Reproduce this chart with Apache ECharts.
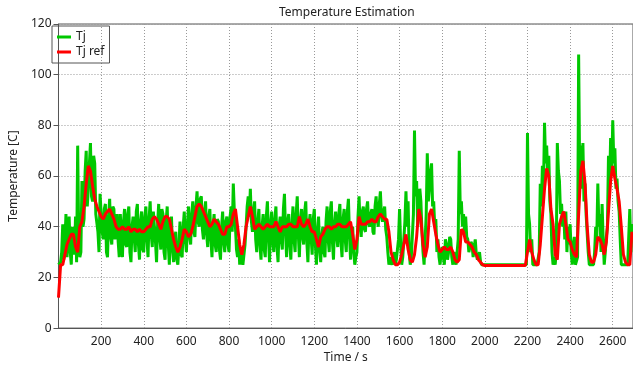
<!DOCTYPE html>
<html>
<head>
<meta charset="utf-8">
<script src="https://cdn.jsdelivr.net/npm/echarts@6/dist/echarts.min.js"></script>
<style>
html, body { margin: 0; background: #fff; }
#main { width: 633px; height: 369px; }
</style>
</head>
<body>
<div id="main"></div>
<script>
// sample spacing, seconds
var tjStep = 5;
var refStep = 10;

// Tj, one value every 5 s
var tj = [
  25, 25, 26, 30, 41, 27, 33, 45, 28, 36, 44, 30, 25, 40, 37, 29, 44, 26, 72, 35,
  28, 30, 58, 40, 43, 62, 70, 48, 55, 65, 73, 52, 50, 68, 65, 45, 45, 38, 30, 53,
  53, 38, 35, 47, 49, 30, 28, 44, 51, 36, 33, 48, 47, 35, 38, 45, 34, 28, 45, 36,
  28, 42, 47, 33, 32, 45, 48, 30, 26, 40, 44, 36, 30, 46, 49, 33, 27, 42, 46, 31,
  30, 44, 48, 35, 28, 43, 50, 37, 32, 46, 46, 34, 26, 41, 49, 36, 31, 47, 45, 30,
  27, 42, 48, 33, 25, 38, 44, 31, 26, 35, 38, 27, 25, 33, 42, 29, 28, 40, 46, 35,
  30, 41, 48, 36, 33, 45, 50, 38, 36, 48, 54, 42, 40, 51, 52, 39, 35, 46, 50, 37,
  32, 44, 47, 35, 28, 40, 45, 33, 30, 43, 42, 31, 27, 40, 46, 34, 30, 42, 44, 33,
  30, 44, 48, 38, 57, 46, 40, 31, 28, 35, 25, 30, 27, 25, 25, 33, 40, 48, 52, 44,
  55, 42, 38, 46, 50, 35, 30, 42, 47, 33, 27, 40, 45, 31, 28, 44, 50, 36, 26, 41,
  46, 34, 30, 43, 48, 32, 26, 40, 44, 35, 31, 47, 53, 38, 28, 42, 45, 33, 27, 41,
  48, 35, 30, 45, 52, 37, 28, 42, 47, 36, 33, 46, 50, 34, 26, 40, 45, 36, 29, 43,
  47, 33, 25, 38, 44, 31, 26, 36, 40, 30, 28, 42, 48, 35, 30, 46, 50, 34, 27, 41,
  46, 36, 32, 45, 49, 34, 28, 43, 47, 35, 30, 46, 51, 37, 27, 38, 40, 30, 25, 28,
  30, 44, 52, 40, 36, 46, 48, 39, 38, 47, 50, 41, 40, 45, 47, 38, 37, 48, 52, 43,
  40, 49, 54, 44, 42, 46, 48, 39, 36, 30, 25, 28, 26, 25, 25, 30, 25, 27, 27, 35,
  47, 33, 25, 28, 35, 42, 54, 40, 50, 30, 25, 28, 28, 45, 78, 52, 58, 40, 45, 55,
  50, 38, 30, 25, 25, 45, 69, 50, 55, 62, 65, 48, 50, 40, 43, 30, 35, 28, 25, 30,
  32, 28, 25, 35, 33, 27, 30, 36, 35, 28, 25, 30, 27, 25, 30, 35, 70, 45, 50, 40,
  45, 38, 44, 36, 35, 30, 30, 34, 33, 28, 32, 35, 29, 27, 27, 30, 26, 25, 25, 25,
  25, 25, 25, 25, 25, 25, 25, 25, 25, 25, 25, 25, 25, 25, 25, 25, 25, 25, 25, 25,
  25, 25, 25, 25, 25, 25, 25, 25, 25, 25, 25, 25, 25, 25, 25, 25, 25, 25, 25, 25,
  77, 45, 41, 30, 35, 25, 25, 25, 25, 25, 25, 30, 57, 48, 64, 55, 81, 65, 72, 60,
  68, 50, 45, 30, 25, 28, 25, 30, 73, 62, 58, 45, 49, 40, 46, 35, 46, 30, 40, 33,
  41, 30, 25, 33, 36, 25, 25, 28, 108, 60, 72, 55, 73, 50, 57, 45, 45, 30, 25, 25,
  25, 25, 25, 30, 40, 35, 57, 40, 45, 30, 49, 35, 25, 30, 36, 40, 68, 55, 75, 60,
  82, 65, 71, 55, 59, 50, 46, 35, 25, 25, 25, 25, 25, 25, 25, 25, 47, 30, 41, 35
];

// Tj ref, one value every 10 s
var tjRef = [
  12, 25, 25, 29, 33, 35, 37, 37, 32, 30,
  40, 42, 48, 57, 64, 62, 56, 51, 48, 46,
  44, 43, 45, 46, 47, 45, 43, 40, 39, 39,
  40, 39, 39, 40, 38, 39, 39, 38, 39, 38,
  38, 39, 40, 40, 43, 44, 43, 41, 39, 42,
  44, 44, 43, 39, 35, 32, 30, 32, 35, 39,
  38, 36, 37, 40, 44, 48, 49, 48, 46, 44,
  42, 40, 41, 43, 42, 41, 39, 37, 37, 40,
  40, 41, 45, 47, 40, 33, 29, 33, 40, 44,
  48, 44, 39, 40, 41, 40, 39, 40, 41, 40,
  40, 40, 42, 40, 38, 40, 40, 40, 41, 41,
  40, 40, 40, 44, 41, 40, 41, 43, 40, 38,
  38, 35, 32, 36, 37, 39, 40, 40, 39, 40,
  40, 41, 41, 40, 40, 40, 41, 42, 37, 31,
  35, 44, 41, 41, 41, 42, 42, 43, 42, 42,
  44, 45, 44, 43, 43, 38, 30, 27, 25, 25,
  26, 29, 33, 37, 31, 27, 26, 29, 36, 47,
  43, 33, 28, 32, 45, 47, 42, 37, 33, 30,
  31, 32, 31, 31, 32, 30, 27, 26, 27, 39,
  38, 34, 34, 33, 32, 30, 29, 27, 26, 25,
  24.7, 24.7, 24.7, 24.7, 24.7, 24.7, 24.7, 24.7, 24.7, 24.7,
  24.7, 24.7, 24.7, 24.7, 24.7, 24.7, 24.7, 24.7, 24.7, 24.7,
  30, 35, 30, 27, 25, 25, 33, 44, 55, 63,
  60, 47, 41, 29, 27, 41, 44, 46, 41, 35,
  34, 31, 29, 28, 45, 62, 66, 57, 40, 29,
  26, 26, 29, 36, 35, 33, 29, 34, 46, 58,
  64, 59, 55, 50, 40, 29, 26, 25, 25, 38
];

function withTime(values, step) {
  return values.map(function (v, i) { return [i * step, v]; });
}

var font = 'Noto Sans';
var chart = echarts.init(document.getElementById('main'));

chart.setOption({
  animation: false,
  textStyle: { fontFamily: font },
  title: {
    text: 'Temperature Estimation',
    left: 279,
    top: 7,
    padding: 0,
    textStyle: { fontFamily: font, fontSize: 12, fontWeight: 'normal', color: '#222' }
  },
  legend: {
    data: ['Tj', 'Tj ref'],
    orient: 'vertical',
    left: 52,
    top: 26,
    padding: [4, 5, 4, 5],
    itemGap: 1,
    itemWidth: 14,
    itemHeight: 3,
    icon: 'rect',
    borderColor: '#555',
    borderWidth: 1,
    textStyle: { fontFamily: font, fontSize: 12, color: '#222', lineHeight: 14 }
  },
  grid: {
    left: 49,
    right: 0,
    top: 24,
    bottom: 35,
    show: true,
    borderColor: '#555',
    borderWidth: 1
  },
  xAxis: {
    type: 'value',
    min: 0,
    max: 2695,
    interval: 200,
    name: 'Time / s',
    nameLocation: 'middle',
    nameGap: 20,
    nameTextStyle: { fontFamily: font, fontSize: 12, color: '#222' },
    axisLine: { lineStyle: { color: '#555' } },
    axisTick: { show: false },
    axisLabel: {
      showMinLabel: false,
      showMaxLabel: false,
      margin: 7,
      fontFamily: font,
      fontSize: 12,
      color: '#222',
      formatter: function (v) { return String(v); }
    },
    splitLine: { lineStyle: { color: '#999', type: [1, 2] } }
  },
  yAxis: {
    type: 'value',
    min: 0,
    max: 120,
    interval: 20,
    name: 'Temperature [C]',
    nameLocation: 'middle',
    nameGap: 30,
    nameTextStyle: { fontFamily: font, fontSize: 12, color: '#222' },
    axisLine: { show: true, lineStyle: { color: '#555' } },
    axisTick: { show: true, length: 5, lineStyle: { color: '#555' } },
    axisLabel: { margin: 7, fontFamily: font, fontSize: 12, color: '#222' },
    splitLine: { lineStyle: { color: '#999', type: [1, 2] } }
  },
  series: [
    {
      name: 'Tj',
      type: 'line',
      data: withTime(tj, tjStep),
      showSymbol: false,
      color: '#00c800',
      lineStyle: { width: 3, color: '#00c800' }
    },
    {
      name: 'Tj ref',
      type: 'line',
      data: withTime(tjRef, refStep),
      showSymbol: false,
      color: '#ff0000',
      lineStyle: { width: 3, color: '#ff0000' }
    }
  ]
});
</script>
</body>
</html>
